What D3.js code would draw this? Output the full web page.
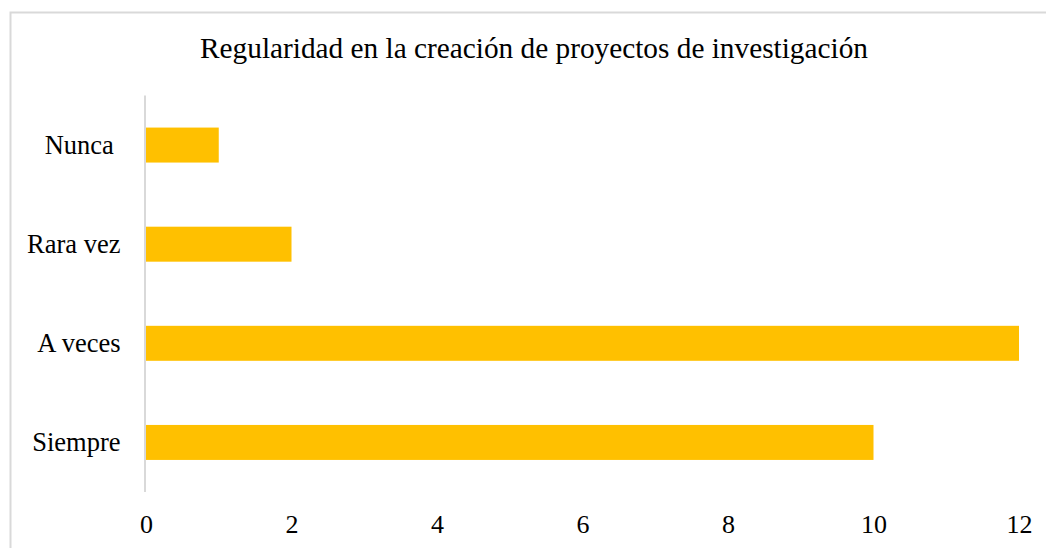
<!DOCTYPE html>
<html>
<head>
<meta charset="utf-8">
<script src="https://cdn.jsdelivr.net/npm/d3@7"></script>
<style>
  html, body { margin: 0; padding: 0; background: #fff; }
  svg { display: block; }
  text { font-family: "Liberation Serif", "Times New Roman", serif; fill: #000; }
</style>
</head>
<body>
<svg id="chart" width="1046" height="548"></svg>
<script>
const title = "Regularidad en la creación de proyectos de investigación";
const categories = ["Nunca ", "Rara vez", "A veces", "Siempre"];
const values = [1, 2, 12, 10];
const tickValues = [0, 2, 4, 6, 8, 10, 12];

const svg = d3.select("#chart");
const W = 1046, H = 548;

// outer border (light gray)
svg.append("rect")
  .attr("x", 10.5).attr("y", 12.5)
  .attr("width", W + 20).attr("height", H + 20)
  .attr("fill", "#fff")
  .attr("stroke", "#d9d9d9")
  .attr("stroke-width", 2);

const x = d3.scaleLinear().domain([0, 12]).range([146, 1019]);
const y = d3.scaleBand().domain(categories).range([95.5, 492]).paddingInner(0.647).paddingOuter(0.3235);

// title
svg.append("text")
  .attr("x", 534).attr("y", 58)
  .attr("text-anchor", "middle")
  .style("font-size", "29.3px")
  .text(title);

// bars
svg.append("g").selectAll("rect")
  .data(categories)
  .join("rect")
  .attr("x", x(0))
  .attr("y", d => y(d))
  .attr("width", (d, i) => x(values[i]) - x(0))
  .attr("height", y.bandwidth())
  .attr("fill", "#FFC000");

// vertical axis line
svg.append("line")
  .attr("x1", x(0) - 1).attr("x2", x(0) - 1)
  .attr("y1", 95.5).attr("y2", 492)
  .attr("stroke", "#d9d9d9")
  .attr("stroke-width", 2);

// category labels
const yAxis = d3.axisLeft(y).tickSize(0).tickPadding(0);
const gy = svg.append("g").attr("transform", `translate(120.5,0)`).call(yAxis);
gy.select(".domain").remove();
gy.selectAll("text")
  .style("font-size", "26.5px")
  .style("font-family", "'Liberation Serif', 'Times New Roman', serif")
  .style("white-space", "pre")
  .attr("fill", "#000")
  .attr("dy", "0.33em");

// x tick labels
const xAxis = d3.axisBottom(x).tickValues(tickValues).tickSize(0).tickPadding(0).tickFormat(d3.format("d"));
const gx = svg.append("g").attr("transform", `translate(0,532.5)`).call(xAxis);
gx.select(".domain").remove();
gx.selectAll("text")
  .style("font-size", "26px")
  .style("font-family", "'Liberation Serif', 'Times New Roman', serif")
  .attr("fill", "#000")
  .attr("dy", "0");
</script>
</body>
</html>
